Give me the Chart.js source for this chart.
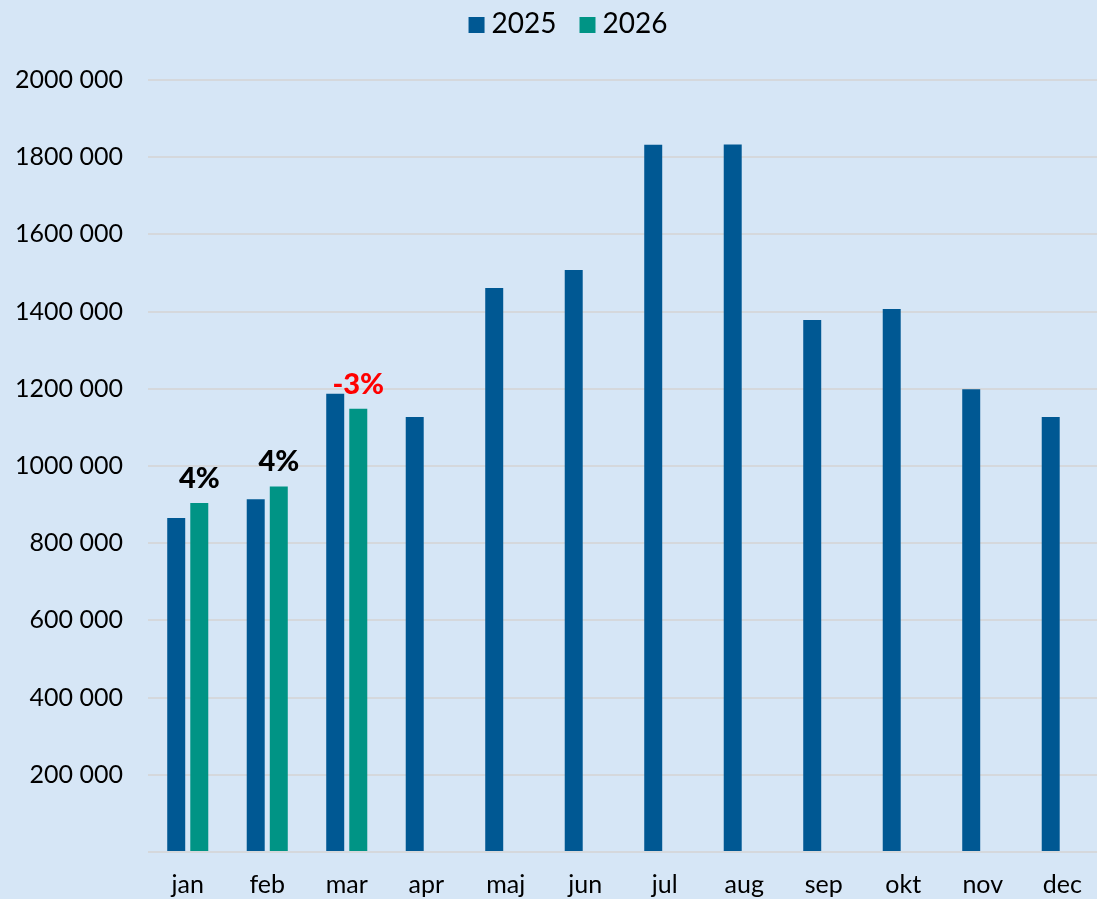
<!DOCTYPE html>
<html><head><meta charset="utf-8">
<script src="https://cdn.jsdelivr.net/npm/chart.js@4.4.1/dist/chart.umd.min.js"></script>
<style>
html,body{margin:0;padding:0;overflow:hidden;background:#D6E6F6;}
#wrap{width:1102px;height:899px;}
</style></head>
<body><div id="wrap"><canvas id="c" width="1102" height="899"></canvas></div>
<script>
const categories = ['jan','feb','mar','apr','maj','jun','jul','aug','sep','okt','nov','dec'];
const seriesNames = ['2025','2026'];
const values2025 = [865000, 914000, 1187000, 1127000, 1461000, 1508000, 1832000, 1833000, 1378000, 1407000, 1199000, 1127000];
const values2026 = [904000, 947000, 1148000, null, null, null, null, null, null, null, null, null];
const changeLabels = ['4%', '4%', '-3%'];
const yMax = 2000000;
const yStep = 200000;

const BG = '#D6E6F6';
const FONT = 'Lato, "Open Sans", sans-serif';

const bgPlugin = {
  id: 'bg',
  beforeDraw(chart) {
    const ctx = chart.ctx;
    ctx.save();
    ctx.fillStyle = BG;
    ctx.fillRect(0, 0, chart.width, chart.height);
    ctx.restore();
  }
};

// simple legend: box, small gap, text
const legendPlugin = {
  id: 'customLegend',
  afterDraw(chart) {
    const ctx = chart.ctx;
    ctx.save();
    ctx.font = '28px ' + FONT;
    ctx.textBaseline = 'middle';
    ctx.textAlign = 'left';
    const box = 16, gap = 7, itemGap = 23, cx = 568, cy = 24;
    const items = chart.data.datasets.map(d => ({ text: d.label, color: d.backgroundColor, w: ctx.measureText(d.label).width }));
    const total = items.reduce((s, it) => s + box + gap + it.w, 0) + itemGap * (items.length - 1);
    let x = cx - total / 2;
    items.forEach(it => {
      ctx.fillStyle = it.color;
      ctx.fillRect(x, cy - box / 2 + 1, box, box);
      ctx.fillStyle = '#000';
      ctx.fillText(it.text, x + box + gap, cy);
      x += box + gap + it.w + itemGap;
    });
    ctx.restore();
  }
};

const changePlugin = {
  id: 'changeLabels',
  afterDatasetsDraw(chart) {
    const ctx = chart.ctx;
    const meta = chart.getDatasetMeta(1);
    ctx.save();
    ctx.font = '900 29px ' + FONT;
    ctx.textAlign = 'center';
    ctx.textBaseline = 'alphabetic';
    changeLabels.forEach((t, i) => {
      const bar = meta.data[i];
      if (!bar) return;
      ctx.fillStyle = t.trim().startsWith('-') ? '#FF0000' : '#000000';
      ctx.fillText(t, bar.x, bar.y - 15);
    });
    ctx.restore();
  }
};

new Chart(document.getElementById('c'), {
  type: 'bar',
  data: {
    labels: categories,
    datasets: [
      { label: seriesNames[0], data: values2025, backgroundColor: '#005893', borderWidth: 0,
        categoryPercentage: 0.58, barPercentage: 0.78 },
      { label: seriesNames[1], data: values2026, backgroundColor: '#009485', borderWidth: 0,
        categoryPercentage: 0.58, barPercentage: 0.78 }
    ]
  },
  options: {
    responsive: false,
    animation: false,
    devicePixelRatio: 1,
    layout: { padding: { top: 80, left: 0, right: 0, bottom: 0 } },
    plugins: {
      legend: { display: false },
      tooltip: { enabled: false }
    },
    scales: {
      x: {
        grid: { display: false },
        border: { display: false },
        ticks: { color: '#000', font: { family: FONT, size: 25 }, padding: 10, maxRotation: 0 },
        afterFit(scale) { scale.height = 47; }
      },
      y: {
        min: 0,
        max: yMax,
        grid: { color: '#D5D8DC', lineWidth: 2, drawTicks: false },
        border: { display: false },
        ticks: {
          stepSize: yStep,
          color: '#000',
          font: { family: FONT, size: 25 },
          padding: 25,
          callback(v) {
            if (v === 0) return '';
            return Math.floor(v / 1000) + ' 000';
          }
        },
        afterFit(scale) { scale.width = 148; }
      }
    }
  },
  plugins: [bgPlugin, changePlugin, legendPlugin]
});
</script>
</body></html>
